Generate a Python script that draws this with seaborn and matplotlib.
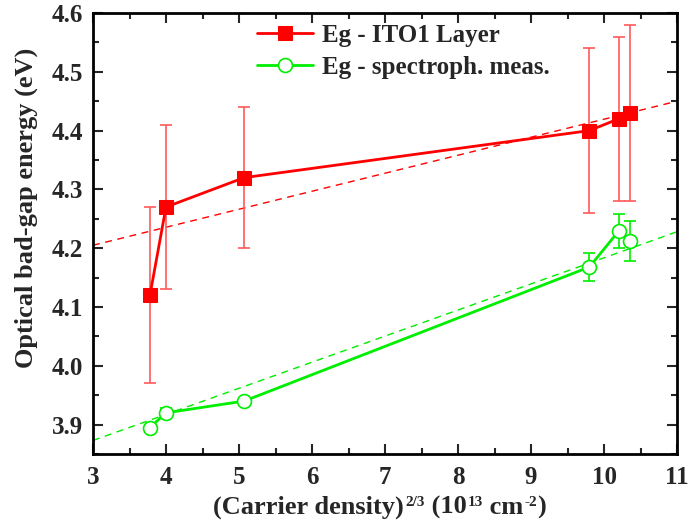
import numpy as np
import pandas as pd
import matplotlib
matplotlib.use("Agg")
import matplotlib.pyplot as plt
import seaborn as sns
from matplotlib.ticker import MultipleLocator

# Data
carrier = [3.78, 4.0, 5.07, 9.8, 10.2, 10.35]
eg_ito = [4.12, 4.27, 4.32, 4.40, 4.42, 4.43]
eg_ito_err = [0.15, 0.14, 0.12, 0.14, 0.14, 0.15]
eg_spec = [3.895, 3.92, 3.94, 4.168, 4.229, 4.212]
eg_spec_err = [0.005, 0.008, 0.004, 0.023, 0.029, 0.034]
fit_x = [3.0, 11.0]
fit_ito = [4.205, 4.45]
fit_spec = [3.873, 4.228]

sns.set_theme(style="ticks")
plt.rcParams['font.family'] = ['Liberation Serif', 'DejaVu Serif']
plt.rcParams['font.weight'] = 'bold'

FS = 18
LFS = 19
SUP = 11

W, H = 691, 523
fig = plt.figure(figsize=(W/100, H/100), dpi=100)
L, R, T, B = 93, 677, 13, 454
ax = fig.add_axes([L/W, 1-B/H, (R-L)/W, (B-T)/H])

RED = "#ff0000"
GREEN = "#00ee00"

df1 = pd.DataFrame({"x": carrier, "y": eg_ito})
df2 = pd.DataFrame({"x": carrier, "y": eg_spec})

# fit lines
sns.lineplot(x=fit_x, y=fit_ito, ax=ax, color=RED, lw=1.0, ls=(0, (5, 4)), zorder=1)
sns.lineplot(x=fit_x, y=fit_spec, ax=ax, color=GREEN, lw=1.0, ls=(0, (5, 4)), zorder=1)

# error bars
ax.errorbar(carrier, eg_ito, yerr=eg_ito_err, fmt='none', ecolor="#ff5a5a", elinewidth=1.2,
            capsize=4, capthick=1.2, zorder=2)
ax.errorbar(carrier, eg_spec, yerr=eg_spec_err, fmt='none', ecolor=GREEN, elinewidth=1.2,
            capsize=4, capthick=1.2, zorder=2)

sns.lineplot(data=df1, x="x", y="y", ax=ax, color=RED, lw=2, marker='s', markersize=9.5,
             markeredgecolor=RED, markerfacecolor=RED, label="Eg - ITO1 Layer", zorder=3)
sns.lineplot(data=df2, x="x", y="y", ax=ax, color=GREEN, lw=2, marker='o', markersize=10,
             markeredgecolor=GREEN, markerfacecolor='white', markeredgewidth=1.2,
             label="Eg - spectroph. meas.", zorder=3)

ax.set_xlim(3, 11)
ax.set_ylim(3.85, 4.6)
ax.xaxis.set_major_locator(MultipleLocator(1))
ax.xaxis.set_minor_locator(MultipleLocator(0.5))
ax.yaxis.set_major_locator(MultipleLocator(0.1))
ax.yaxis.set_minor_locator(MultipleLocator(0.05))
ax.yaxis.set_major_formatter(matplotlib.ticker.FormatStrFormatter('%.1f'))
ax.tick_params(which='both', direction='in', top=True, right=True, labelsize=FS, width=1.5)
ax.tick_params(which='major', length=7)
ax.tick_params(which='minor', length=4)
ax.tick_params(axis='x', which='major', pad=9)
ax.tick_params(axis='y', which='major', pad=7)
for lab in ax.get_xticklabels() + ax.get_yticklabels():
    lab.set_fontweight('bold')
for s in ax.spines.values():
    s.set_linewidth(2)
    s.set_color('black')

# y label
ax.set_ylabel("Optical bad-gap energy (eV)", fontsize=LFS, fontweight='bold')
ax.yaxis.set_label_coords((26 - L)/(R - L), (B - 208)/(B - T))
ax.yaxis.label.set_verticalalignment('center')
ax.set_xlabel("")

# x label built from pieces (small superscripts)
kw = dict(fontsize=LFS, fontweight='bold', annotation_clip=False)
skw = dict(fontsize=SUP, fontweight='bold', annotation_clip=False)
t1 = fig.text(213/W, 1 - 514/H, "(Carrier density)", fontsize=LFS, fontweight='bold',
              ha='left', va='baseline')
t2 = ax.annotate("2/3", xy=(1, 1), xycoords=t1, xytext=(1, 0), textcoords='offset points',
                 ha='left', va='top', **skw)
t3 = ax.annotate(" (10", xy=(1, 0), xycoords=(t2, t1), ha='left', va='bottom', **kw)
t4 = ax.annotate("13", xy=(1, 1), xycoords=t3, xytext=(1, 0), textcoords='offset points',
                 ha='left', va='top', **skw)
t5 = ax.annotate(" cm", xy=(1, 0), xycoords=(t4, t3), ha='left', va='bottom', **kw)
t6 = ax.annotate("-2", xy=(1, 1), xycoords=(t5, t3), xytext=(1, 0), textcoords='offset points',
                 ha='left', va='top', **skw)
t7 = ax.annotate(")", xy=(1, 0), xycoords=(t6, t3), ha='left', va='bottom', **kw)

leg = ax.legend(loc='upper left', bbox_to_anchor=((257 - L)/(R - L), 1 - 11/(B - T)),
                frameon=False, prop={'size': FS, 'weight': 'bold'}, handlelength=2.24,
                handletextpad=0.36, labelspacing=0.36, borderpad=0, borderaxespad=0)

fig.savefig("out.png", dpi=100)
